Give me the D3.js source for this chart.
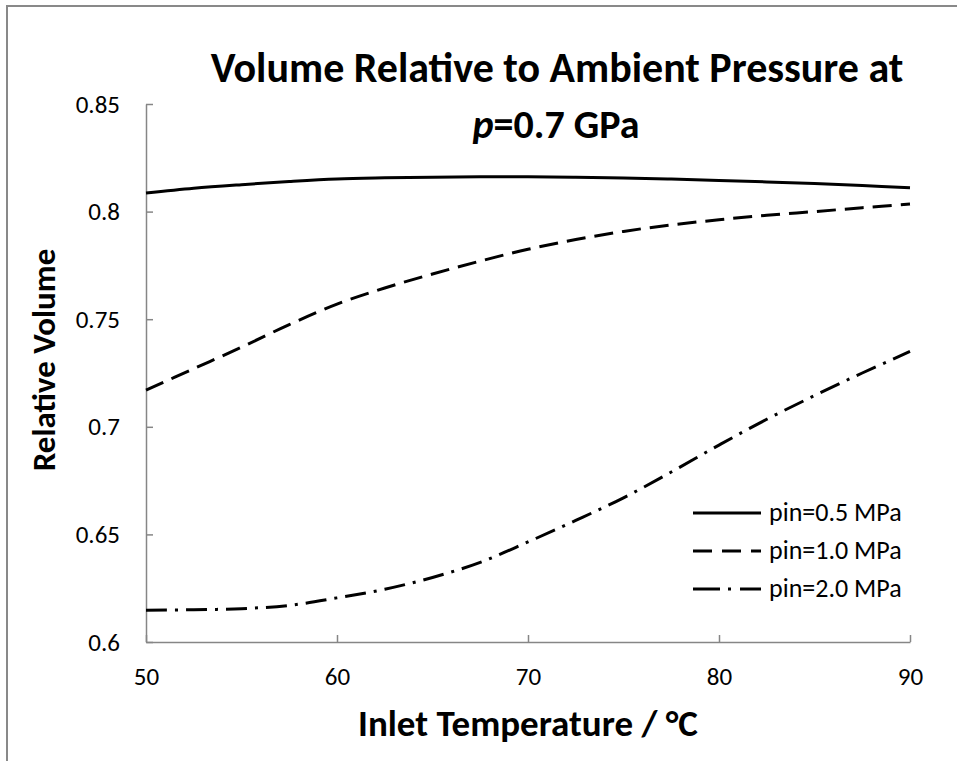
<!DOCTYPE html>
<html>
<head>
<meta charset="utf-8">
<script src="https://cdn.jsdelivr.net/npm/d3@7"></script>
<style>
  body { margin: 0; background: #fff; }
  svg text { font-family: Carlito, Lato, "Open Sans", sans-serif; fill: #000; }
</style>
</head>
<body>
<svg id="chart" width="957" height="761"></svg>
<script>

// Data ////////////////////////////////////////

const temps = [50, 52.5, 55, 57.5, 60, 62.5, 65, 67.5, 70, 72.5, 75, 77.5, 80, 82.5, 85, 87.5, 90];

const pin05 = [0.8086, 0.8108, 0.8125, 0.8140, 0.8152, 0.8157, 0.8160, 0.8162, 0.8162, 0.8160, 0.8156, 0.8151, 0.8145, 0.8138, 0.8130, 0.8121, 0.8111];
const pin10 = [0.7170, 0.7270, 0.7370, 0.7475, 0.7570, 0.7645, 0.7710, 0.7770, 0.7825, 0.7870, 0.7908, 0.7938, 0.7962, 0.7983, 0.8000, 0.8018, 0.8035];
const pin20 = [0.6148, 0.6150, 0.6155, 0.6170, 0.6205, 0.6245, 0.6300, 0.6370, 0.6465, 0.6565, 0.6670, 0.6790, 0.6915, 0.7035, 0.7145, 0.7250, 0.7350];

const seriesNames = ["pin=0.5 MPa", "pin=1.0 MPa", "pin=2.0 MPa"];
const dashes = [null, "19,9", "21,8,3,8"];
const legendDashes = [null, "19,10", "27,8,3,9"];

const xTicks = [50, 60, 70, 80, 90];
const yTicks = [0.6, 0.65, 0.7, 0.75, 0.8, 0.85];

// Layout //////////////////////////////////////

const svg = d3.select("#chart");
const plot = { left: 146, right: 910, top: 104, bottom: 642 };

// outer frame
svg.append("rect")
    .attr("x", 7).attr("y", 6)
    .attr("width", 1000).attr("height", 1000)
    .attr("fill", "none")
    .attr("stroke", "#898989")
    .attr("stroke-width", 2);

const x = d3.scaleLinear().domain([50, 90]).range([plot.left, plot.right]);
const y = d3.scaleLinear().domain([0.6, 0.85]).range([plot.bottom, plot.top]);

// Axes ////////////////////////////////////////

const xAxis = svg.append("g")
    .attr("transform", `translate(0,${plot.bottom})`)
    .call(d3.axisBottom(x).tickValues(xTicks).tickSizeInner(-7).tickSizeOuter(0).tickPadding(25).tickFormat(d3.format("d")));

const yAxis = svg.append("g")
    .attr("transform", `translate(${plot.left},0)`)
    .call(d3.axisLeft(y).tickValues(yTicks).tickSizeInner(-7).tickSizeOuter(0).tickPadding(26).tickFormat(d => String(+d.toFixed(2))));

[xAxis, yAxis].forEach(ax => {
    ax.select(".domain").attr("stroke", "#868686").attr("stroke-width", 1.5);
    ax.selectAll(".tick line").attr("stroke", "#868686").attr("stroke-width", 1.5);
    ax.selectAll(".tick text").style("font-size", "25px").attr("fill", "#000");
});

// Lines ///////////////////////////////////////

const line = d3.line()
    .x(d => x(d[0]))
    .y(d => y(d[1]))
    .curve(d3.curveCatmullRom);

[pin05, pin10, pin20].forEach((vals, i) => {
    svg.append("path")
        .datum(temps.map((t, j) => [t, vals[j]]))
        .attr("d", line)
        .attr("fill", "none")
        .attr("stroke", "#000")
        .attr("stroke-width", 3)
        .attr("stroke-dasharray", dashes[i]);
});

// Legend //////////////////////////////////////

const legend = svg.append("g").attr("transform", "translate(693,513)");
seriesNames.forEach((name, i) => {
    const row = legend.append("g").attr("transform", `translate(0,${i * 38})`);
    row.append("line")
        .attr("x1", 0).attr("x2", 68)
        .attr("y1", 0).attr("y2", 0)
        .attr("stroke", "#000")
        .attr("stroke-width", 3)
        .attr("stroke-dasharray", legendDashes[i]);
    row.append("text")
        .attr("x", 76).attr("y", 8)
        .style("font-size", "26px")
        .text(name);
});

// Titles //////////////////////////////////////

const title = svg.append("text")
    .attr("x", 557).attr("y", 82)
    .attr("text-anchor", "middle")
    .style("font-size", "42px")
    .style("font-weight", "bold")
    .text("Volume Relative to Ambient Pressure at");

const title2 = svg.append("text")
    .attr("x", 556).attr("y", 138)
    .attr("text-anchor", "middle")
    .style("font-size", "40px")
    .style("font-weight", "bold");
title2.append("tspan").style("font-style", "italic").text("p");
title2.append("tspan").text("=0.7 GPa");

svg.append("text")
    .attr("transform", "translate(55,360) rotate(-90)")
    .attr("text-anchor", "middle")
    .style("font-size", "33px")
    .style("font-weight", "bold")
    .text("Relative Volume");

svg.append("text")
    .attr("x", 528).attr("y", 736)
    .attr("text-anchor", "middle")
    .style("font-size", "37px")
    .style("font-weight", "bold")
    .text("Inlet Temperature / °C");

</script>
</body>
</html>
